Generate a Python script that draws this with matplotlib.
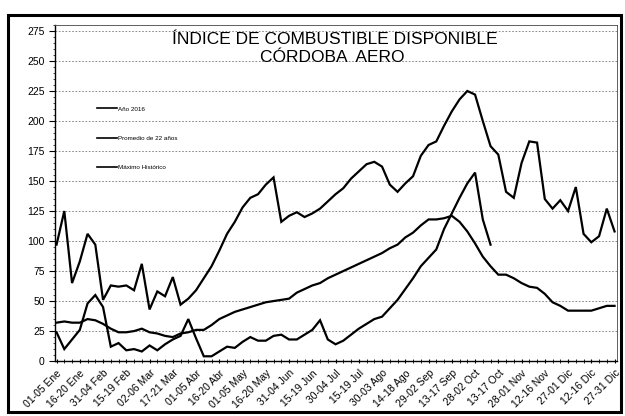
import matplotlib
matplotlib.use('Agg')
import matplotlib.pyplot as plt
from matplotlib.lines import Line2D
from matplotlib.patches import Rectangle
from matplotlib.ticker import MultipleLocator

plt.rcParams['font.family'] = ['Liberation Sans', 'DejaVu Sans']

# ---------------------------------------------------------------------------
# Data (one value per pentad, 73 pentads per year)
# ---------------------------------------------------------------------------
TICK_LABELS = ['01-05 Ene', '16-20 Ene', '31-04 Feb', '15-19 Feb', '02-06 Mar',
               '17-21 Mar', '01-05 Abr', '16-20 Abr', '01-05 May', '16-20 May',
               '31-04 Jun', '15-19 Jun', '30-04 Jul', '15-19 Jul', '30-03 Ago',
               '14-18 Ago', '29-02 Sep', '13-17 Sep', '28-02 Oct', '13-17 Oct',
               '28-01 Nov', '12-16 Nov', '27-01 Dic', '12-16 Dic', '27-31 Dic']

ANIO_2016 = [24, 10, 18, 26, 48, 55, 45, 12, 15, 9,
             10, 8, 13, 9, 14, 18, 21, 35, 19, 4,
             4, 8, 12, 11, 16, 20, 17, 17, 21, 22,
             18, 18, 22, 26, 34, 18, 14, 17, 22, 27,
             31, 35, 37, 44, 51, 60, 69, 79, 86, 93,
             110, 123, 136, 148, 157, 118, 97]

PROMEDIO_22 = [32, 33, 32, 32, 35, 34, 31, 27, 24, 24,
               25, 27, 24, 23, 21, 20, 23, 24, 26, 26,
               30, 35, 38, 41, 43, 45, 47, 49, 50, 51,
               52, 57, 60, 63, 65, 69, 72, 75, 78, 81,
               84, 87, 90, 94, 97, 103, 107, 113, 118, 118,
               119, 121, 116, 108, 98, 87, 79, 72, 72, 69,
               65, 62, 61, 56, 49, 46, 42, 42, 42, 42,
               44, 46, 46]

MAXIMO_HIST = [97, 125, 65, 83, 106, 97, 51, 63, 62, 63,
               59, 81, 43, 58, 54, 70, 47, 52, 59, 69,
               79, 92, 106, 116, 128, 136, 139, 147, 153, 116,
               121, 124, 120, 123, 127, 133, 139, 144, 152, 158,
               164, 166, 162, 147, 141, 148, 154, 171, 180, 183,
               196, 208, 218, 225, 222, 200, 179, 172, 141, 136,
               165, 183, 182, 135, 127, 134, 125, 145, 106, 99,
               104, 127, 108]

SERIES = [('Año 2016', ANIO_2016),
          ('Promedio de 22 años', PROMEDIO_22),
          ('Máximo Histórico', MAXIMO_HIST)]

# ---------------------------------------------------------------------------
# Figure
# ---------------------------------------------------------------------------
fig = plt.figure(figsize=(6.25, 4.16), dpi=100)
fig.patch.set_facecolor('white')
ax = fig.add_axes([0.088, 0.132, 0.899, 0.808])

for label, vals in SERIES:
    ax.plot(range(len(vals)), vals, color='black', linewidth=1.6,
            solid_joinstyle='miter', label=label, zorder=3)

ax.set_xlim(-0.2, 72.3)
ax.set_ylim(0, 280)

ax.set_yticks(range(0, 276, 25))
ax.yaxis.set_minor_locator(MultipleLocator(5))
ax.set_xticks(range(0, 73, 3))
ax.set_xticklabels(TICK_LABELS, rotation=45, ha='right',
                   rotation_mode='anchor', fontsize=7.5)
ax.xaxis.set_minor_locator(MultipleLocator(1))
ax.tick_params(axis='y', labelsize=7.5, length=4, width=0.8, direction='out')
ax.tick_params(axis='y', which='minor', length=1.5, width=0.5)
ax.tick_params(axis='x', length=3, width=0.8, direction='inout')
ax.tick_params(axis='x', which='minor', length=3, width=0.6, direction='inout')

ax.yaxis.grid(True, linestyle=(0, (2, 2)), color='#777777', linewidth=0.6)
ax.set_axisbelow(True)

for side in ['top', 'right']:
    ax.spines[side].set_linewidth(0.6)
    ax.spines[side].set_color('#444444')
ax.spines['left'].set_linewidth(1.0)
ax.spines['bottom'].set_linewidth(1.0)

# title inside the plot area
fig.text(0.536, 0.906, 'ÍNDICE DE COMBUSTIBLE DISPONIBLE', ha='center',
         va='center', fontsize=12.5)
fig.text(0.532, 0.861, 'CÓRDOBA  AERO', ha='center', va='center', fontsize=12.5)

# legend at upper left, one entry per series
handles = [Line2D([0], [0], color='black', linewidth=1.2) for _ in SERIES]
ax.legend(handles, [s[0] for s in SERIES], loc='upper left',
          bbox_to_anchor=(0.064, 0.775), fontsize=4.5, frameon=False,
          labelspacing=3.8, handlelength=3.2, handletextpad=0.3)

# outer chart border
fig.patches.append(Rectangle((0.0128, 0.0096), 0.981, 0.954,
                             transform=fig.transFigure, fill=False,
                             edgecolor='black', linewidth=2.2))

fig.savefig('out.png', dpi=100, facecolor='white')
